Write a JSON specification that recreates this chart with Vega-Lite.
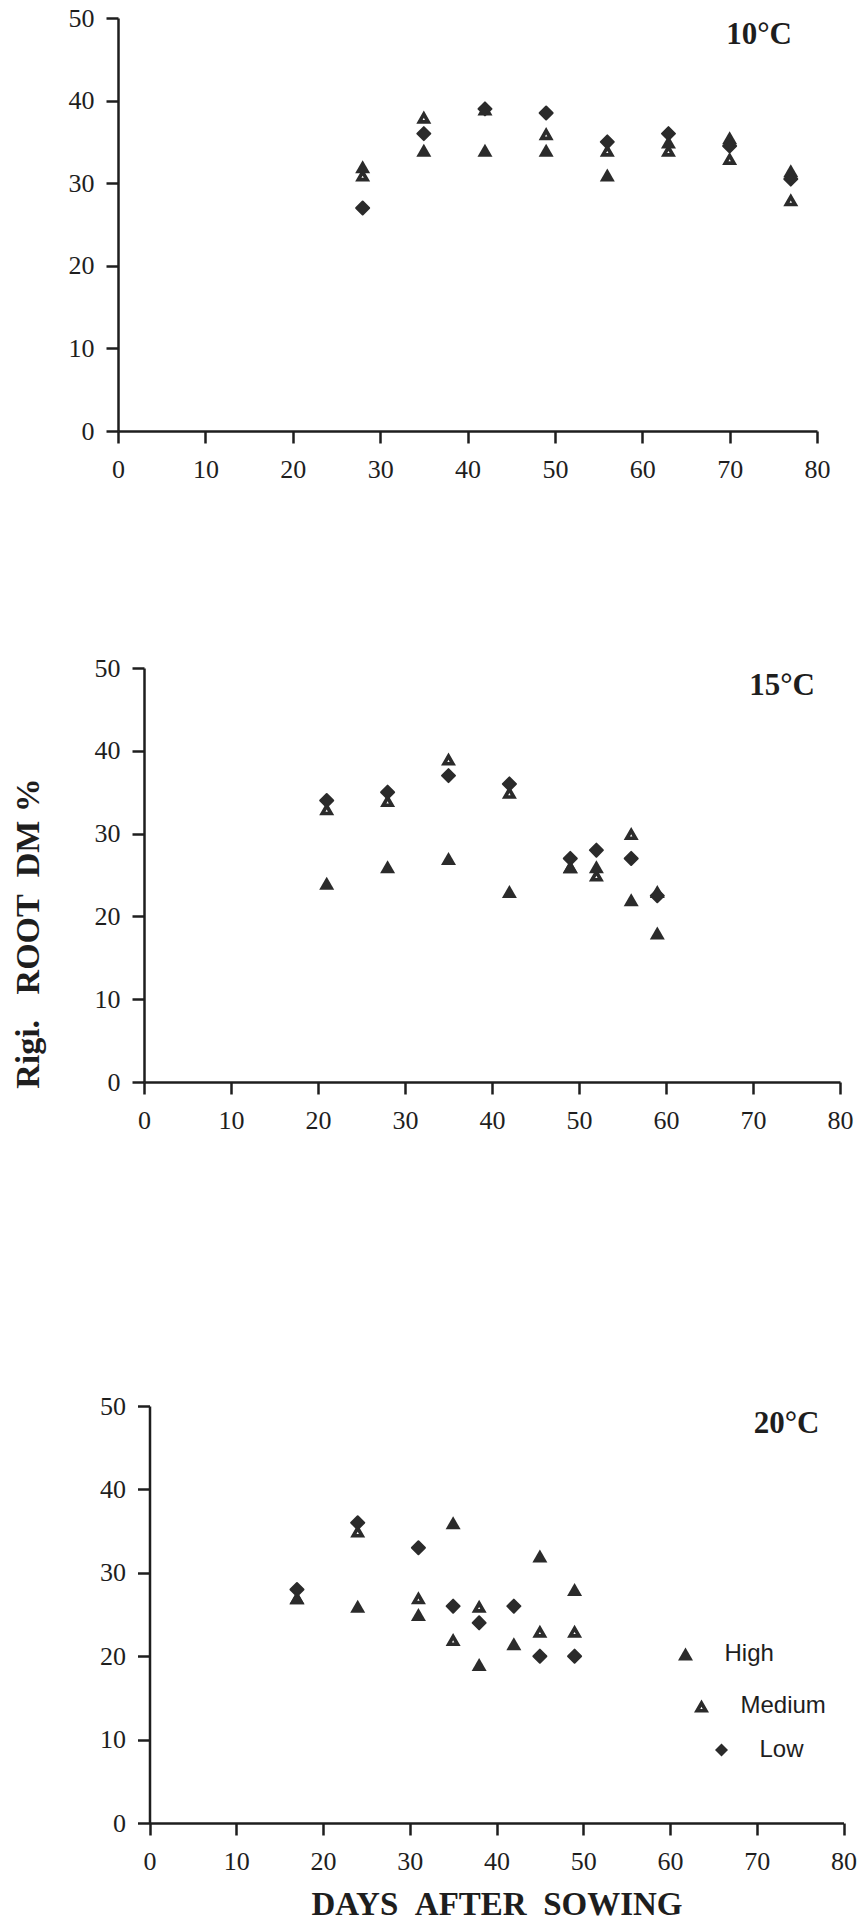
{
  "$schema": "https://vega.github.io/schema/vega-lite/v6.json",
  "padding": {"left": 11, "top": 5, "right": 0, "bottom": 0},
  "background": "white",
  "datasets": {
    "t10": [
      {"day": 28, "level": "High", "rdm": 32}, {"day": 28, "level": "Medium", "rdm": 31}, {"day": 28, "level": "Low", "rdm": 27},
      {"day": 35, "level": "High", "rdm": 34}, {"day": 35, "level": "Medium", "rdm": 38}, {"day": 35, "level": "Low", "rdm": 36},
      {"day": 42, "level": "High", "rdm": 34}, {"day": 42, "level": "Medium", "rdm": 39}, {"day": 42, "level": "Low", "rdm": 39},
      {"day": 49, "level": "High", "rdm": 34}, {"day": 49, "level": "Medium", "rdm": 36}, {"day": 49, "level": "Low", "rdm": 38.5},
      {"day": 56, "level": "High", "rdm": 31}, {"day": 56, "level": "Medium", "rdm": 34}, {"day": 56, "level": "Low", "rdm": 35},
      {"day": 63, "level": "High", "rdm": 35}, {"day": 63, "level": "Medium", "rdm": 34}, {"day": 63, "level": "Low", "rdm": 36},
      {"day": 70, "level": "High", "rdm": 35.5}, {"day": 70, "level": "Medium", "rdm": 33}, {"day": 70, "level": "Low", "rdm": 34.5},
      {"day": 77, "level": "High", "rdm": 31.5}, {"day": 77, "level": "Medium", "rdm": 28}, {"day": 77, "level": "Low", "rdm": 30.5}
    ],
    "t15": [
      {"day": 21, "level": "High", "rdm": 24}, {"day": 21, "level": "Medium", "rdm": 33}, {"day": 21, "level": "Low", "rdm": 34},
      {"day": 28, "level": "High", "rdm": 26}, {"day": 28, "level": "Medium", "rdm": 34}, {"day": 28, "level": "Low", "rdm": 35},
      {"day": 35, "level": "High", "rdm": 27}, {"day": 35, "level": "Medium", "rdm": 39}, {"day": 35, "level": "Low", "rdm": 37},
      {"day": 42, "level": "High", "rdm": 23}, {"day": 42, "level": "Medium", "rdm": 35}, {"day": 42, "level": "Low", "rdm": 36},
      {"day": 49, "level": "High", "rdm": 26}, {"day": 49, "level": "Medium", "rdm": 26}, {"day": 49, "level": "Low", "rdm": 27},
      {"day": 52, "level": "High", "rdm": 26}, {"day": 52, "level": "Medium", "rdm": 25}, {"day": 52, "level": "Low", "rdm": 28},
      {"day": 56, "level": "High", "rdm": 22}, {"day": 56, "level": "Medium", "rdm": 30}, {"day": 56, "level": "Low", "rdm": 27},
      {"day": 59, "level": "High", "rdm": 18}, {"day": 59, "level": "Medium", "rdm": 23}, {"day": 59, "level": "Low", "rdm": 22.5}
    ],
    "t20": [
      {"day": 17, "level": "High", "rdm": 27}, {"day": 17, "level": "Medium", "rdm": 27}, {"day": 17, "level": "Low", "rdm": 28},
      {"day": 24, "level": "High", "rdm": 26}, {"day": 24, "level": "Medium", "rdm": 35}, {"day": 24, "level": "Low", "rdm": 36},
      {"day": 31, "level": "High", "rdm": 25}, {"day": 31, "level": "Medium", "rdm": 27}, {"day": 31, "level": "Low", "rdm": 33},
      {"day": 35, "level": "High", "rdm": 36}, {"day": 35, "level": "Medium", "rdm": 22}, {"day": 35, "level": "Low", "rdm": 26},
      {"day": 38, "level": "High", "rdm": 19}, {"day": 38, "level": "Medium", "rdm": 26}, {"day": 38, "level": "Low", "rdm": 24},
      {"day": 42, "level": "High", "rdm": 21.5}, {"day": 42, "level": "Low", "rdm": 26},
      {"day": 45, "level": "High", "rdm": 32}, {"day": 45, "level": "Medium", "rdm": 23}, {"day": 45, "level": "Low", "rdm": 20},
      {"day": 49, "level": "High", "rdm": 28}, {"day": 49, "level": "Medium", "rdm": 23}, {"day": 49, "level": "Low", "rdm": 20}
    ]
  },
  "spacing": 260,
  "vconcat": [
    {
      "spacing": 173,
      "vconcat": [
        {
          "width": 699,
          "height": 413,
          "data": {"name": "t10"},
          "layer": [
            {"transform": [{"filter": "datum.level === 'Medium'"}],
             "mark": {"type": "point", "shape": "M0,-0.87L1,0.87L-1,0.87ZM0,0.1L-0.16,0.39L0.16,0.39Z", "filled": true, "color": "#2b2b2b", "size": 225, "opacity": 1},
             "encoding": {
               "x": {"field": "day", "type": "quantitative", "scale": {"domain": [0, 80], "nice": false}, "axis": {"title": null, "values": [0, 10, 20, 30, 40, 50, 60, 70, 80]}},
               "y": {"field": "rdm", "type": "quantitative", "scale": {"domain": [0, 50], "nice": false}, "axis": {"title": null, "values": [0, 10, 20, 30, 40, 50]}}}},
            {"transform": [{"filter": "datum.level === 'High'"}],
             "mark": {"type": "point", "shape": "triangle-up", "filled": true, "color": "#2b2b2b", "size": 225, "opacity": 1},
             "encoding": {
               "x": {"field": "day", "type": "quantitative", "scale": {"domain": [0, 80], "nice": false}, "axis": {"title": null, "values": [0, 10, 20, 30, 40, 50, 60, 70, 80]}},
               "y": {"field": "rdm", "type": "quantitative", "scale": {"domain": [0, 50], "nice": false}, "axis": {"title": null, "values": [0, 10, 20, 30, 40, 50]}}}},
            {"transform": [{"filter": "datum.level === 'Low'"}],
             "mark": {"type": "point", "shape": "diamond", "filled": true, "color": "#2b2b2b", "stroke": "#2b2b2b", "strokeWidth": 2, "strokeJoin": "round", "size": 170, "opacity": 1},
             "encoding": {
               "x": {"field": "day", "type": "quantitative", "scale": {"domain": [0, 80], "nice": false}, "axis": {"title": null, "values": [0, 10, 20, 30, 40, 50, 60, 70, 80]}},
               "y": {"field": "rdm", "type": "quantitative", "scale": {"domain": [0, 50], "nice": false}, "axis": {"title": null, "values": [0, 10, 20, 30, 40, 50]}}}},
            {"data": {"values": [{"label": "10°C"}]},
             "mark": {"type": "text", "align": "right", "baseline": "top", "font": "Liberation Serif", "fontWeight": "bold", "fontSize": 31, "dx": -25, "dy": 2, "fill": "#1e1e1e"},
             "encoding": {
               "x": {"datum": 80, "type": "quantitative", "axis": {"title": null, "values": [0, 10, 20, 30, 40, 50, 60, 70, 80]}},
               "y": {"datum": 50, "type": "quantitative", "axis": {"title": null, "values": [0, 10, 20, 30, 40, 50]}},
               "text": {"field": "label", "type": "nominal"}}}
          ]
        },
        {
          "width": 722,
          "height": 414,
          "data": {"name": "t15"},
          "layer": [
            {"transform": [{"filter": "datum.level === 'Medium'"}],
             "mark": {"type": "point", "shape": "M0,-0.87L1,0.87L-1,0.87ZM0,0.1L-0.16,0.39L0.16,0.39Z", "filled": true, "color": "#2b2b2b", "size": 225, "opacity": 1},
             "encoding": {
               "x": {"field": "day", "type": "quantitative", "scale": {"domain": [0, 80], "nice": false, "range": [26, 722]}, "axis": {"title": null, "values": [0, 10, 20, 30, 40, 50, 60, 70, 80]}},
               "y": {"field": "rdm", "type": "quantitative", "scale": {"domain": [0, 50], "nice": false}, "axis": {"values": [0, 10, 20, 30, 40, 50], "offset": -26, "title": "Rigi.\u00a0\u00a0\u00a0ROOT\u00a0\u00a0DM\u00a0%", "titleFontSize": 34, "titleX": -106, "titleY": 265, "titleAngle": 270, "titleBaseline": "alphabetic", "titleAlign": "center"}}}},
            {"transform": [{"filter": "datum.level === 'High'"}],
             "mark": {"type": "point", "shape": "triangle-up", "filled": true, "color": "#2b2b2b", "size": 225, "opacity": 1},
             "encoding": {
               "x": {"field": "day", "type": "quantitative", "scale": {"domain": [0, 80], "nice": false, "range": [26, 722]}, "axis": {"title": null, "values": [0, 10, 20, 30, 40, 50, 60, 70, 80]}},
               "y": {"field": "rdm", "type": "quantitative", "scale": {"domain": [0, 50], "nice": false}, "axis": {"values": [0, 10, 20, 30, 40, 50], "offset": -26, "title": "Rigi.\u00a0\u00a0\u00a0ROOT\u00a0\u00a0DM\u00a0%", "titleFontSize": 34, "titleX": -106, "titleY": 265, "titleAngle": 270, "titleBaseline": "alphabetic", "titleAlign": "center"}}}},
            {"transform": [{"filter": "datum.level === 'Low'"}],
             "mark": {"type": "point", "shape": "diamond", "filled": true, "color": "#2b2b2b", "stroke": "#2b2b2b", "strokeWidth": 2, "strokeJoin": "round", "size": 170, "opacity": 1},
             "encoding": {
               "x": {"field": "day", "type": "quantitative", "scale": {"domain": [0, 80], "nice": false, "range": [26, 722]}, "axis": {"title": null, "values": [0, 10, 20, 30, 40, 50, 60, 70, 80]}},
               "y": {"field": "rdm", "type": "quantitative", "scale": {"domain": [0, 50], "nice": false}, "axis": {"values": [0, 10, 20, 30, 40, 50], "offset": -26, "title": "Rigi.\u00a0\u00a0\u00a0ROOT\u00a0\u00a0DM\u00a0%", "titleFontSize": 34, "titleX": -106, "titleY": 265, "titleAngle": 270, "titleBaseline": "alphabetic", "titleAlign": "center"}}}},
            {"data": {"values": [{"label": "15°C"}]},
             "mark": {"type": "text", "align": "right", "baseline": "top", "font": "Liberation Serif", "fontWeight": "bold", "fontSize": 31, "dx": -25, "dy": 3, "fill": "#1e1e1e"},
             "encoding": {
               "x": {"datum": 80, "type": "quantitative", "axis": {"title": null, "values": [0, 10, 20, 30, 40, 50, 60, 70, 80]}},
               "y": {"datum": 50, "type": "quantitative", "axis": {"values": [0, 10, 20, 30, 40, 50], "offset": -26, "title": "Rigi.\u00a0\u00a0\u00a0ROOT\u00a0\u00a0DM\u00a0%", "titleFontSize": 34, "titleX": -106, "titleY": 265, "titleAngle": 270, "titleBaseline": "alphabetic", "titleAlign": "center"}},
               "text": {"field": "label", "type": "nominal"}}}
          ]
        }
      ]
    },
    {
      "width": 725.5,
      "height": 417,
      "data": {"name": "t20"},
      "resolve": {"scale": {"shape": "independent"}, "legend": {"shape": "independent"}},
      "layer": [
        {"transform": [{"filter": "datum.level === 'Medium'"}],
         "mark": {"type": "point", "filled": true, "color": "#2b2b2b", "size": 225, "opacity": 1},
         "encoding": {
           "x": {"field": "day", "type": "quantitative", "scale": {"domain": [0, 80], "nice": false, "range": [31.5, 725.5]}, "axis": {"values": [0, 10, 20, 30, 40, 50, 60, 70, 80], "title": "DAYS\u00a0\u00a0AFTER\u00a0\u00a0SOWING", "titleFontSize": 33, "titlePadding": 14}},
           "y": {"field": "rdm", "type": "quantitative", "scale": {"domain": [0, 50], "nice": false}, "axis": {"title": null, "values": [0, 10, 20, 30, 40, 50], "offset": -31.5}},
           "shape": {"field": "level", "type": "nominal", "scale": {"domain": ["Medium"], "range": ["M0,-0.87L1,0.87L-1,0.87ZM0,0.1L-0.16,0.39L0.16,0.39Z"]},
             "legend": {"orient": "none", "legendX": 571.5, "legendY": 288, "title": null, "padding": 0, "symbolSize": 225, "symbolFillColor": "#2b2b2b", "symbolStrokeWidth": 0, "symbolOpacity": 1, "labelOffset": 27, "labelFont": "Liberation Sans", "labelFontSize": 24, "labelColor": "#1e1e1e"}}}},
        {"transform": [{"filter": "datum.level === 'High'"}],
         "mark": {"type": "point", "filled": true, "color": "#2b2b2b", "size": 225, "opacity": 1},
         "encoding": {
           "x": {"field": "day", "type": "quantitative", "scale": {"domain": [0, 80], "nice": false, "range": [31.5, 725.5]}, "axis": {"values": [0, 10, 20, 30, 40, 50, 60, 70, 80], "title": "DAYS\u00a0\u00a0AFTER\u00a0\u00a0SOWING", "titleFontSize": 33, "titlePadding": 14}},
           "y": {"field": "rdm", "type": "quantitative", "scale": {"domain": [0, 50], "nice": false}, "axis": {"title": null, "values": [0, 10, 20, 30, 40, 50], "offset": -31.5}},
           "shape": {"field": "level", "type": "nominal", "scale": {"domain": ["High"], "range": ["triangle-up"]},
             "legend": {"orient": "none", "legendX": 555.5, "legendY": 236, "title": null, "padding": 0, "symbolSize": 225, "symbolFillColor": "#2b2b2b", "symbolStrokeWidth": 0, "symbolOpacity": 1, "labelOffset": 27, "labelFont": "Liberation Sans", "labelFontSize": 24, "labelColor": "#1e1e1e"}}}},
        {"transform": [{"filter": "datum.level === 'Low'"}],
         "mark": {"type": "point", "filled": true, "color": "#2b2b2b", "stroke": "#2b2b2b", "strokeWidth": 2, "strokeJoin": "round", "size": 170, "opacity": 1},
         "encoding": {
           "x": {"field": "day", "type": "quantitative", "scale": {"domain": [0, 80], "nice": false, "range": [31.5, 725.5]}, "axis": {"values": [0, 10, 20, 30, 40, 50, 60, 70, 80], "title": "DAYS\u00a0\u00a0AFTER\u00a0\u00a0SOWING", "titleFontSize": 33, "titlePadding": 14}},
           "y": {"field": "rdm", "type": "quantitative", "scale": {"domain": [0, 50], "nice": false}, "axis": {"title": null, "values": [0, 10, 20, 30, 40, 50], "offset": -31.5}},
           "shape": {"field": "level", "type": "nominal", "scale": {"domain": ["Low"], "range": ["diamond"]},
             "legend": {"orient": "none", "legendX": 591.5, "legendY": 332, "title": null, "padding": 0, "symbolSize": 170, "symbolFillColor": "#2b2b2b", "symbolStrokeColor": "#2b2b2b", "symbolStrokeWidth": 2, "symbolOpacity": 1, "labelOffset": 26, "labelFont": "Liberation Sans", "labelFontSize": 24, "labelColor": "#1e1e1e"}}}},
        {"data": {"values": [{"label": "20°C"}]},
         "mark": {"type": "text", "align": "right", "baseline": "top", "font": "Liberation Serif", "fontWeight": "bold", "fontSize": 31, "dx": -24, "dy": 3, "fill": "#1e1e1e"},
         "encoding": {
           "x": {"datum": 80, "type": "quantitative", "axis": {"values": [0, 10, 20, 30, 40, 50, 60, 70, 80], "title": "DAYS\u00a0\u00a0AFTER\u00a0\u00a0SOWING", "titleFontSize": 33, "titlePadding": 14}},
           "y": {"datum": 50, "type": "quantitative", "axis": {"title": null, "values": [0, 10, 20, 30, 40, 50], "offset": -31.5}},
           "text": {"field": "label", "type": "nominal"}}}
      ]
    }
  ],
  "config": {
    "view": {"stroke": null},
    "axis": {
      "grid": false,
      "domainColor": "#1e1e1e", "domainWidth": 2.5,
      "tickColor": "#1e1e1e", "tickWidth": 2.5, "tickSize": 12,
      "labelFont": "Liberation Serif", "labelFontSize": 26, "labelColor": "#1e1e1e", "labelPadding": 12,
      "labelFlush": false, "labelOverlap": false,
      "titleFont": "Liberation Serif", "titleFontWeight": "bold", "titleFontSize": 32, "titleColor": "#1e1e1e"
    },
    "axisX": {"labelPadding": 13}
  }
}
